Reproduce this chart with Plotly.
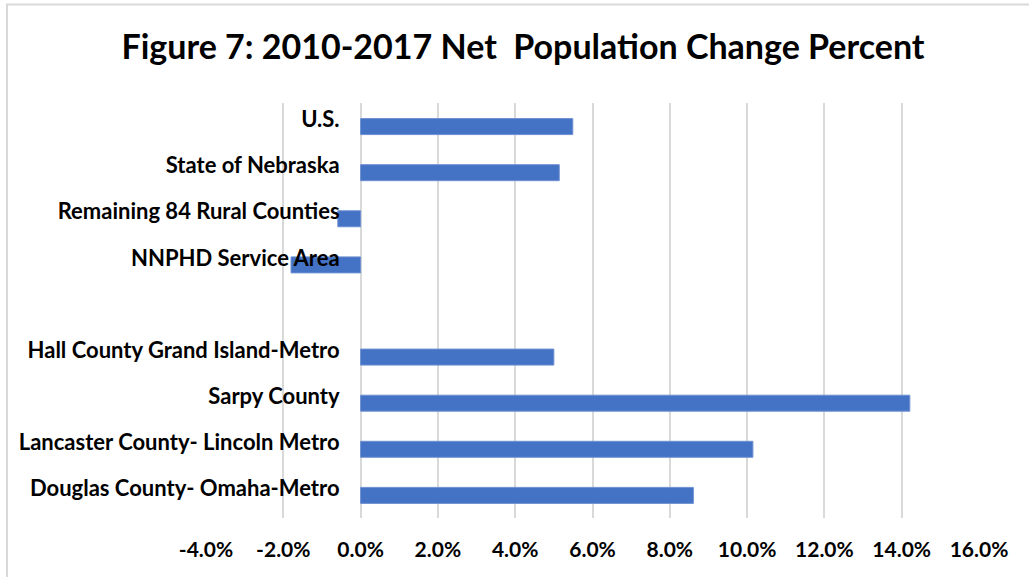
import plotly.graph_objects as go

# Net population change 2010-2017, percent (blank row separates the two groups)
categories = [
    "U.S.",
    "State of Nebraska",
    "Remaining 84 Rural Counties",
    "NNPHD Service Area",
    "",
    "Hall County Grand Island-Metro",
    "Sarpy County",
    "Lancaster County- Lincoln Metro",
    "Douglas County- Omaha-Metro",
]
change_pct = [5.49, 5.14, -0.59, -1.80, None, 5.00, 14.21, 10.15, 8.61]
x_ticks = [-4, -2, 0, 2, 4, 6, 8, 10, 12, 14, 16]
x_tick_labels = [f"{v:.1f}%" for v in x_ticks]

W, H = 1029, 577
ML, MR, MT, MB = 206, 50, 103, 59
PW, PH = W - ML - MR, H - MT - MB

positions = list(range(len(categories)))
FONT = "Lato"

fig = go.Figure(
    go.Bar(
        x=change_pct,
        y=positions,
        orientation="h",
        width=0.347,
        offset=-0.02,
        marker=dict(color="#4472C4", line=dict(color="#6E90D2", width=1)),
        hoverinfo="x+y",
    )
)


def px_x(p):
    return (p - ML) / PW


def px_y(p):
    return (H - MB - p) / PH


fig.update_layout(
    width=W,
    height=H,
    margin=dict(l=ML, r=MR, t=MT, b=MB, pad=0),
    paper_bgcolor="white",
    plot_bgcolor="white",
    showlegend=False,
    title=dict(
        text="<b>Figure 7: 2010-2017 Net  Population Change Percent</b>",
        font=dict(family=FONT, size=34, color="black"),
        x=523 / W,
        xref="container",
        xanchor="center",
        y=1 - 47 / H,
        yref="container",
        yanchor="middle",
    ),
    xaxis=dict(
        range=[-4, 16],
        tickmode="array",
        tickvals=x_ticks,
        ticktext=x_tick_labels,
        showgrid=True,
        gridcolor="#D9D9D9",
        gridwidth=2,
        zeroline=False,
        showline=False,
        ticks="",
        ticklabelstandoff=17,
        tickfont=dict(family=FONT, size=21, color="black", weight="bold"),
    ),
    yaxis=dict(
        range=[8.644, -0.358],
        tickmode="array",
        tickvals=positions,
        ticktext=categories,
        anchor="free",
        position=0.2,
        showgrid=False,
        zeroline=False,
        showline=False,
        ticks="",
        ticklabelstandoff=21,
        tickfont=dict(family=FONT, size=22, color="black", weight="bold"),
    ),
    shapes=[
        dict(
            type="line", xref="paper", yref="paper",
            x0=px_x(6), x1=px_x(W + 5), y0=px_y(4.5), y1=px_y(4.5),
            line=dict(color="#D9D9D9", width=2),
        ),
        dict(
            type="line", xref="paper", yref="paper",
            x0=px_x(7), x1=px_x(7), y0=px_y(4), y1=px_y(H + 5),
            line=dict(color="#D9D9D9", width=2),
        ),
    ],
)

fig.write_html("out.html")
